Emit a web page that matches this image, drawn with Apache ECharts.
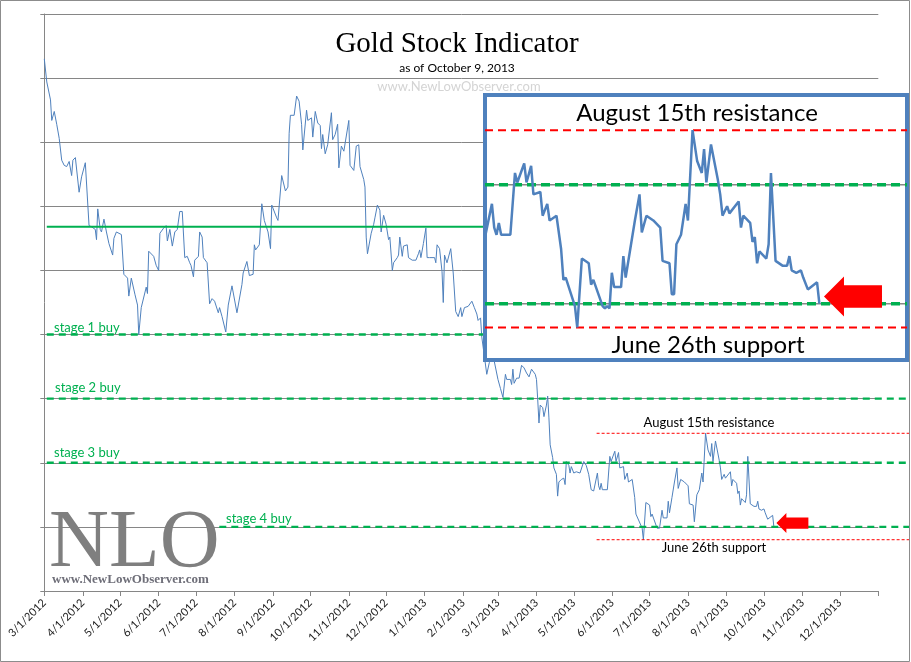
<!DOCTYPE html>
<html><head><meta charset="utf-8">
<script src="https://cdn.jsdelivr.net/npm/echarts@6/dist/echarts.min.js"></script>
<style>html,body{margin:0;padding:0;background:#fff}#c{width:911px;height:662px}</style>
</head><body><div id="c"></div>
<script>
// ---------- data ----------
const priceDates = [
'2012-03-01','2012-03-03','2012-03-06','2012-03-07','2012-03-09','2012-03-11','2012-03-13','2012-03-15','2012-03-17','2012-03-19',
'2012-03-21','2012-03-23','2012-03-24','2012-03-26','2012-03-29','2012-03-31','2012-04-03','2012-04-06','2012-04-08','2012-04-11',
'2012-04-12','2012-04-13','2012-04-15','2012-04-16','2012-04-18','2012-04-20','2012-04-22','2012-04-25','2012-04-26','2012-04-28',
'2012-05-02','2012-05-04','2012-05-07','2012-05-08','2012-05-10','2012-05-13','2012-05-15','2012-05-16','2012-05-18','2012-05-22',
'2012-05-23','2012-05-24','2012-05-28','2012-05-30','2012-06-01','2012-06-02','2012-06-05','2012-06-07','2012-06-08','2012-06-10',
'2012-06-12','2012-06-14','2012-06-16','2012-06-18','2012-06-20','2012-06-22','2012-06-24','2012-06-26','2012-06-27','2012-06-29',
'2012-06-30','2012-07-03','2012-07-04','2012-07-06','2012-07-07','2012-07-10','2012-07-12','2012-07-14','2012-07-16','2012-07-19',
'2012-07-20','2012-07-22','2012-07-25','2012-07-27','2012-07-30','2012-08-03','2012-08-07','2012-08-08','2012-08-11','2012-08-13',
'2012-08-16','2012-08-17','2012-08-18','2012-08-21','2012-08-23','2012-08-25','2012-08-28','2012-08-30','2012-08-31','2012-09-04',
'2012-09-05','2012-09-08','2012-09-11','2012-09-13','2012-09-14','2012-09-15','2012-09-18','2012-09-20','2012-09-22','2012-09-24',
'2012-09-25','2012-09-28','2012-09-29','2012-10-02','2012-10-03','2012-10-05','2012-10-07','2012-10-09','2012-10-10','2012-10-11',
'2012-10-13','2012-10-15','2012-10-18','2012-10-19','2012-10-21','2012-10-23','2012-10-24','2012-10-26','2012-10-28','2012-11-01',
'2012-11-02','2012-11-05','2012-11-07','2012-11-09','2012-11-10','2012-11-13','2012-11-14','2012-11-15','2012-11-16','2012-11-19',
'2012-11-21','2012-11-22','2012-11-24','2012-11-26','2012-11-27','2012-11-29','2012-12-01','2012-12-03','2012-12-04','2012-12-06',
'2012-12-07','2012-12-10','2012-12-11','2012-12-12','2012-12-14','2012-12-15','2012-12-18','2012-12-19','2012-12-22','2012-12-25',
'2012-12-27','2012-12-28','2012-12-29','2012-12-31','2013-01-02','2013-01-03','2013-01-05','2013-01-09','2013-01-10','2013-01-11',
'2013-01-13','2013-01-15','2013-01-16','2013-01-17','2013-01-19','2013-01-22','2013-01-24','2013-01-26','2013-01-28','2013-01-30',
'2013-01-31','2013-02-02','2013-02-05','2013-02-06','2013-02-08','2013-02-10','2013-02-12','2013-02-13','2013-02-15','2013-02-16',
'2013-02-20','2013-02-22','2013-02-25','2013-03-01','2013-03-03','2013-03-05','2013-03-07','2013-03-08','2013-03-11','2013-03-12',
'2013-03-13','2013-03-14','2013-03-16','2013-03-18','2013-03-20','2013-03-22','2013-03-24','2013-03-26','2013-03-28','2013-03-31',
'2013-04-01','2013-04-02','2013-04-03','2013-04-04','2013-04-06','2013-04-07','2013-04-09','2013-04-10','2013-04-11','2013-04-12',
'2013-04-14','2013-04-15','2013-04-17','2013-04-18','2013-04-19','2013-04-21','2013-04-23','2013-04-24','2013-04-25','2013-04-27',
'2013-04-28','2013-04-29','2013-05-01','2013-05-03','2013-05-06','2013-05-09','2013-05-11','2013-05-13','2013-05-14','2013-05-15',
'2013-05-17','2013-05-20','2013-05-21','2013-05-22','2013-05-23','2013-05-24','2013-05-28','2013-05-30','2013-05-31','2013-06-03',
'2013-06-04','2013-06-06','2013-06-07','2013-06-10','2013-06-11','2013-06-13','2013-06-14','2013-06-17','2013-06-19','2013-06-20',
'2013-06-21','2013-06-25','2013-06-26','2013-06-28','2013-07-01','2013-07-02','2013-07-03','2013-07-07','2013-07-08','2013-07-09',
'2013-07-10','2013-07-11','2013-07-12','2013-07-15','2013-07-16','2013-07-17','2013-07-19','2013-07-21','2013-07-23','2013-07-24',
'2013-07-26','2013-07-29','2013-08-01','2013-08-02','2013-08-05','2013-08-06','2013-08-07','2013-08-08','2013-08-10','2013-08-12',
'2013-08-13','2013-08-15','2013-08-17','2013-08-19','2013-08-20','2013-08-21','2013-08-23','2013-08-26','2013-08-27','2013-08-28',
'2013-08-30','2013-08-31','2013-09-04','2013-09-05','2013-09-06','2013-09-09','2013-09-10','2013-09-11','2013-09-12','2013-09-13',
'2013-09-16','2013-09-17','2013-09-18','2013-09-20','2013-09-23','2013-09-25','2013-09-26','2013-09-27','2013-09-29','2013-10-01',
'2013-10-02','2013-10-04','2013-10-08','2013-10-09'
];
const priceValues = [
565,547,533,517,524,514,503,486,482,481,
485,474,486,488,461,473,484,435,434,432,
424,448,432,430,440,430,421,412,425,430,
428,397,394,380,394,381,373,350,371,387,
382,415,411,404,400,429,433,435,423,432,
419,430,432,446,446,410,411,406,404,395,
408,411,430,426,410,406,374,378,376,367,
371,364,352,373,388,367,389,398,407,396,
397,420,416,420,452,439,430,417,451,441,
439,474,462,465,507,521,521,536,532,514,
494,525,517,519,504,524,515,513,495,506,
491,498,523,502,506,514,480,497,493,517,
482,478,497,498,481,471,465,426,413,429,
436,441,451,447,430,443,436,424,426,400,
406,410,412,426,411,419,420,410,408,408,
413,416,410,421,433,410,410,410,406,420,
417,399,375,412,406,417,398,368,364,371,
364,371,372,371,376,371,366,361,363,348,
319,328,334,315,308,301,319,315,315,311,
323,312,316,316,326,324,320,317,323,319,
315,299,281,295,293,286,295,302,285,264,
254,246,241,224,235,237,238,233,251,248,
242,247,242,243,242,251,248,241,240,229,
228,242,232,229,234,229,229,255,251,259,
251,258,246,247,237,242,235,237,223,210,
211,199,190,219,217,208,210,199,198,199,
198,213,207,207,220,211,223,235,246,230,
237,235,232,218,217,204,204,225,229,242,
235,273,260,255,265,251,267,252,246,237,
241,238,243,232,237,234,226,228,217,222,
219,225,255,218,216,216,220,214,213,214,
211,206,209,200
];
// axis setup (values)
const axisStartDate = '2012-03-01';
const axisEndDate = '2014-01-01';
const lineEndDate = '2014-01-27';
const yMin = 150, yMax = 600, yStep = 50;
// horizontal reference levels
const stageLevels = [350, 300, 250, 200];
const stageLabels = ['stage 1 buy', 'stage 2 buy', 'stage 3 buy', 'stage 4 buy'];
const stageStartDates = ['2012-03-03', '2012-03-03', '2012-03-03', '2012-07-20'];
const trendLevel = 434;
const trendStartDate = '2012-03-03';
const resistanceLevel = 273;   // August 15th high
const supportLevel = 190;      // June 26th low
const refStartDate = '2013-05-20';
// inset (zoomed) window
const insetStartDate = '2013-05-17';
const insetEndDate = '2013-11-16';
const insetYMin = 176.3, insetYMax = 287.8;
const insetGridLevels = [250, 200];
const arrowTip = ['2013-10-11', 203];

// ---------- categories (one per calendar day) ----------
const pad = n => (n < 10 ? '0' : '') + n;
const toStr = t => { const d = new Date(t); return d.getUTCFullYear() + '-' + pad(d.getUTCMonth() + 1) + '-' + pad(d.getUTCDate()); };
const parseUTC = s => { const p = s.split('-'); return Date.UTC(+p[0], +p[1] - 1, +p[2]); };
const allCats = [];
for (let t = parseUTC(axisStartDate); t <= parseUTC(lineEndDate); t += 864e5) allCats.push(toStr(t));
const catIndex = {};
allCats.forEach((c, i) => { catIndex[c] = i; });
const mainCats = allCats.slice(0, catIndex[axisEndDate] + 1);
const priceData = priceDates.map((d, i) => [catIndex[d], priceValues[i]]);

const calibri = 'Lato, "Open Sans", sans-serif';
const green = '#00B050', red = '#FF0000', blue = '#4F81BD', gray = '#868686';

function hLine(axisIdx, from, to, v, style, z) {
  return {
    type: 'line', xAxisIndex: axisIdx, yAxisIndex: axisIdx, silent: true,
    data: [[catIndex[from], v], [catIndex[to], v]],
    symbol: 'none', lineStyle: style, z: z, animation: false
  };
}

const series = [
  { type: 'line', xAxisIndex: 0, yAxisIndex: 0, data: priceData, symbol: 'none', silent: true,
    lineStyle: { color: blue, width: 1 }, z: 2 },
];
// main overlay lines (extend past plot area)
stageLevels.forEach((v, i) => series.push(hLine(2, stageStartDates[i], lineEndDate, v, { color: green, width: 2.4, type: [7, 5] }, 3)));
series.push(hLine(2, trendStartDate, lineEndDate, trendLevel, { color: green, width: 2 }, 3));
series.push(hLine(2, refStartDate, lineEndDate, resistanceLevel, { color: red, width: 1, type: [3, 2] }, 3));
series.push(hLine(2, refStartDate, lineEndDate, supportLevel, { color: red, width: 1, type: [3, 2] }, 3));
// inset lines
insetGridLevels.forEach(v => series.push(hLine(1, insetStartDate, insetEndDate, v, { color: gray, width: 1.5 }, 5)));
insetGridLevels.forEach(v => series.push(hLine(1, insetStartDate, insetEndDate, v, { color: green, width: 3.5, type: [9, 5] }, 5)));
series.push(hLine(1, insetStartDate, insetEndDate, resistanceLevel, { color: red, width: 2, type: [8, 5] }, 5));
series.push(hLine(1, insetStartDate, insetEndDate, supportLevel, { color: red, width: 2, type: [8, 5] }, 5));
series.push({ type: 'line', xAxisIndex: 1, yAxisIndex: 1, data: priceData, symbol: 'none', silent: true,
  lineStyle: { color: blue, width: 2.5 }, z: 6 });

const option = {
  animation: false,
  backgroundColor: '#fff',
  grid: [
    { left: 44.3, top: 14, width: 834, height: 577, outerBoundsMode: 'none' },
    { left: 485, top: 95, width: 422, height: 265, show: true, backgroundColor: '#fff',
      borderColor: blue, borderWidth: 4, z: 4, outerBoundsMode: 'none' },
    { left: 44.3, top: 14, width: 865.1, height: 577, outerBoundsMode: 'none' }
  ],
  xAxis: [
    { type: 'category', gridIndex: 0, data: mainCats, boundaryGap: false,
      axisLine: { show: true, lineStyle: { color: gray, width: 1 } },
      axisTick: { show: true, length: 5, interval: (i, v) => v.slice(8) === '01', lineStyle: { color: gray } },
      axisLabel: { show: true, rotate: 45, margin: 10, fontSize: 11, fontFamily: calibri, color: '#222',
        interval: (i, v) => v.slice(8) === '01' && v !== axisEndDate,
        formatter: v => { const p = v.split('-'); return (+p[1]) + '/' + (+p[2]) + '/' + p[0]; } },
      splitLine: { show: false } },
    { type: 'category', gridIndex: 1, data: mainCats, boundaryGap: false, show: false,
      min: catIndex[insetStartDate], max: catIndex[insetEndDate] },
    { type: 'category', gridIndex: 2, data: allCats, boundaryGap: false, show: false }
  ],
  yAxis: [
    { type: 'value', gridIndex: 0, min: yMin, max: yMax, interval: yStep,
      axisLine: { show: true, lineStyle: { color: gray } },
      axisTick: { show: true, length: 4, lineStyle: { color: gray } },
      axisLabel: { show: false },
      splitLine: { show: true, lineStyle: { color: gray, width: 1 } } },
    { type: 'value', gridIndex: 1, min: insetYMin, max: insetYMax, show: false, splitLine: { show: false } },
    { type: 'value', gridIndex: 2, min: yMin, max: yMax, show: false, splitLine: { show: false } }
  ],
  series: series
};

const chart = echarts.init(document.getElementById('c'), null, { renderer: 'canvas', width: 911, height: 662 });
chart.setOption(option);

function txt(text, x, y, font, fill, align, extra) {
  return Object.assign({ type: 'text', x: x, y: y, z: 100, silent: true,
    style: { text: text, font: font, fill: fill, align: align || 'center', verticalAlign: 'middle' } }, extra || {});
}
function arrow(tip, pts) {
  return { type: 'polygon', z: 100, silent: true,
    shape: { points: pts.map(p => [tip[0] + p[0], tip[1] + p[1]]) }, style: { fill: red } };
}
const tipMain = chart.convertToPixel({ xAxisIndex: 0, yAxisIndex: 0 }, [catIndex[arrowTip[0]], arrowTip[1]]);
const tipInset = chart.convertToPixel({ xAxisIndex: 1, yAxisIndex: 1 }, [catIndex[arrowTip[0]], arrowTip[1]]);

const stageLabelPos = [[54, 327.5], [55, 387.5], [54, 453], [226, 519]];
const graphics = [
  { type: 'rect', z: 100, silent: true, shape: { x: 0.5, y: 0.5, width: 909, height: 661 },
    style: { fill: 'none', stroke: '#8c8c8c', lineWidth: 1 } },
  txt('Gold Stock Indicator', 457, 44, '29px "Liberation Serif", "Times New Roman", serif', '#000'),
  txt('as of October 9, 2013', 457, 68, '12px ' + calibri, '#000'),
  txt('www.NewLowObserver.com', 459, 87, '13px ' + calibri, '#D4D4D4'),
  txt('NLO', 49, 544, '83px "Liberation Serif", "Times New Roman", serif', '#7F7F7F', 'left'),
  txt('www.NewLowObserver.com', 52, 580, 'bold 13px "Liberation Serif", "Times New Roman", serif', '#6E6E78', 'left'),
  txt('August 15th resistance', 709, 423, '13px ' + calibri, '#000'),
  txt('June 26th support', 714, 548, '13px ' + calibri, '#000'),
  txt('August 15th resistance', 697, 113, '24px ' + calibri, '#000'),
  txt('June 26th support', 708, 345, '24px ' + calibri, '#000'),
  arrow(tipMain, [[0, 0], [10, -10], [10, -5.6], [32, -5.6], [32, 5.6], [10, 5.6], [10, 10]]),
  arrow(tipInset, [[0, 0], [20, -20], [20, -11.3], [58, -11.3], [58, 11.3], [20, 11.3], [20, 20]])
];
stageLabels.forEach((s, i) => graphics.push(txt(s, stageLabelPos[i][0], stageLabelPos[i][1], '13px ' + calibri, green, 'left')));
chart.setOption({ graphic: graphics });
</script>
</body></html>
